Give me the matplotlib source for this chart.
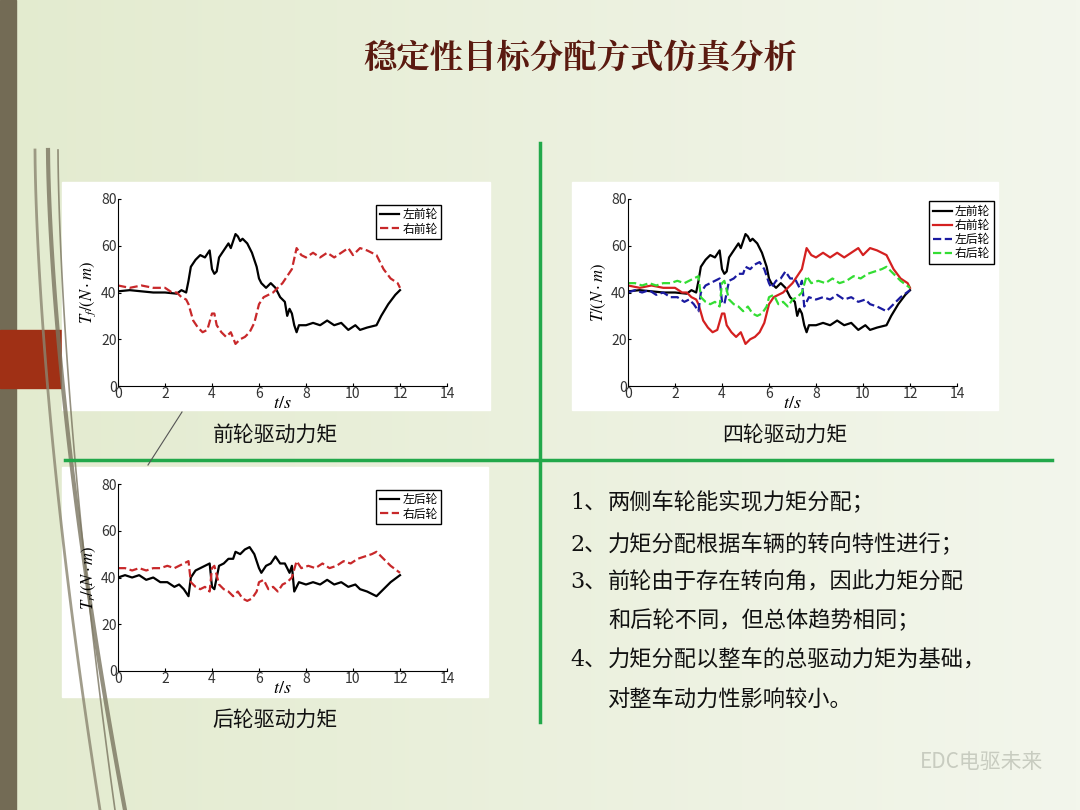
import numpy as np
import matplotlib
matplotlib.use("Agg")
import matplotlib.pyplot as plt
from matplotlib.patches import Rectangle

plt.rcParams['font.family'] = ['Noto Sans CJK SC', 'DejaVu Sans']
plt.rcParams['mathtext.fontset'] = 'stix'

# ── 数据 ──
t_fl = [0, 0.5, 1, 1.5, 2, 2.5, 2.7, 2.9, 3.0, 3.1, 3.3, 3.5, 3.7, 3.9, 4.0, 4.1, 4.2, 4.3, 4.5, 4.7,
        4.8, 4.9, 5.0, 5.1, 5.2, 5.3, 5.5, 5.7, 5.9, 6.0, 6.1, 6.3, 6.5, 6.7, 6.9, 7.1, 7.2, 7.3, 7.4,
        7.5, 7.6, 7.7, 8.0, 8.3, 8.6, 8.9, 9.2, 9.5, 9.8, 10.1, 10.3, 10.6, 11.0, 11.2, 11.5, 11.8, 12.0]
T_fl = [40.5, 41, 40.5, 40, 40, 39.5, 41, 40, 45, 51, 54, 56, 55, 58, 50, 48, 49, 55, 58, 61,
        59, 62, 65, 64, 62, 63, 61, 57, 51, 46, 44, 42, 44, 42, 38, 36, 30, 33, 31,
        26, 23, 26, 26, 27, 26, 28, 26, 27, 24, 26, 24, 25, 26, 30, 35, 39, 41]
t_fr = [0, 0.5, 1, 1.5, 2, 2.3, 2.5, 2.7, 2.9, 3.0, 3.2, 3.4, 3.6, 3.8, 4.0, 4.1, 4.2, 4.4, 4.6, 4.8,
        5.0, 5.2, 5.4, 5.6, 5.8, 6.0, 6.2, 6.4, 6.6, 6.8, 7.0, 7.2, 7.4, 7.6, 7.8, 8.0, 8.3, 8.6, 8.9,
        9.2, 9.5, 9.8, 10.0, 10.3, 10.6, 11.0, 11.3, 11.6, 11.9, 12.0]
T_fr = [43, 42, 43, 42, 42, 40, 40, 38, 37, 35, 28, 25, 23, 24, 31, 31, 26, 23, 21, 23,
        18, 20, 21, 23, 27, 35, 38, 39, 40, 42, 44, 47, 50, 59, 56, 55, 57, 55, 57,
        55, 57, 59, 56, 59, 58, 56, 50, 46, 44, 42]
t_rl = [0, 0.3, 0.6, 0.9, 1.2, 1.5, 1.8, 2.1, 2.4, 2.6, 2.8, 3.0, 3.1, 3.3, 3.5, 3.7, 3.9, 4.0, 4.1, 4.3,
        4.5, 4.7, 4.9, 5.0, 5.2, 5.4, 5.6, 5.8, 6.0, 6.1, 6.3, 6.5, 6.7, 6.9, 7.1, 7.3, 7.4, 7.5, 7.7,
        8.0, 8.3, 8.6, 8.9, 9.2, 9.5, 9.8, 10.1, 10.3, 10.6, 11.0, 11.3, 11.6, 12.0]
T_rl = [40, 41, 40, 41, 39, 40, 38, 38, 36, 37, 35, 32, 40, 43, 44, 45, 46, 36, 35, 45,
        46, 48, 48, 51, 50, 52, 53, 50, 44, 42, 45, 46, 49, 46, 46, 42, 45, 34, 38,
        37, 38, 37, 39, 37, 38, 36, 37, 35, 34, 32, 35, 38, 41]
t_rr = [0, 0.3, 0.6, 0.9, 1.2, 1.5, 1.8, 2.1, 2.4, 2.6, 2.8, 3.0, 3.1, 3.3, 3.5, 3.7, 3.9, 4.0, 4.1, 4.3,
        4.5, 4.7, 4.9, 5.1, 5.3, 5.5, 5.7, 5.9, 6.0, 6.2, 6.4, 6.6, 6.8, 7.0, 7.2, 7.4, 7.6, 7.8, 8.1,
        8.4, 8.7, 9.0, 9.3, 9.6, 9.9, 10.2, 10.5, 10.8, 11.0, 11.3, 11.6, 12.0]
T_rr = [44, 44, 43, 44, 43, 44, 44, 45, 44, 45, 46, 47, 38, 36, 35, 36, 34, 44, 45, 37,
        35, 34, 32, 34, 31, 30, 31, 34, 38, 39, 35, 36, 34, 37, 38, 40, 47, 44, 45,
        44, 46, 44, 45, 47, 46, 48, 49, 50, 51, 48, 45, 42]

title = '稳定性目标分配方式仿真分析'
captions = ['前轮驱动力矩', '四轮驱动力矩', '后轮驱动力矩']
notes = [('1、', '两侧车轮能实现力矩分配；'),
         ('2、', '力矩分配根据车辆的转向特性进行；'),
         ('3、', '前轮由于存在转向角，因此力矩分配'),
         ('', '和后轮不同，但总体趋势相同；'),
         ('4、', '力矩分配以整车的总驱动力矩为基础，'),
         ('', '对整车动力性影响较小。')]

W, H = 1080, 810
fig = plt.figure(figsize=(10.8, 8.1), dpi=100)

# ── 背景 ──
bg = fig.add_axes([0, 0, 1, 1], zorder=-10)
grad = np.linspace(0, 1, 256).reshape(1, -1)
bg.imshow(grad, cmap=matplotlib.colors.LinearSegmentedColormap.from_list('g', ['#e3ebcf', '#f3f6ec']),
          extent=[0, W, H, 0], aspect='auto')
bg.set_xlim(0, W); bg.set_ylim(H, 0); bg.axis('off')
bg.add_patch(Rectangle((0, 0), 16, H, color='#736b55'))
bg.add_patch(Rectangle((0, 330), 62, 58, color='#a03015'))
# 装饰曲线
for x0, x1, c, lw in [(58, 115, '#7a7560', 1.2), (48, 125, '#7a7560', 3), (35, 100, '#8a8570', 2)]:
    yy = np.linspace(150, H, 50)
    xx = x0 + (x1 - x0) * ((yy - 150) / (H - 150)) ** 1.6
    bg.plot(xx, yy, color=c, lw=lw, alpha=0.8)
bg.plot([540, 540], [143, 722], color='#22a84a', lw=2.5)
bg.plot([65, 1052], [460, 460], color='#22a84a', lw=2.5)
bg.plot([148, 182], [465, 412], color='#555555', lw=0.8)
for (x0, y0, x1, y1) in [(62, 182, 490, 410), (572, 182, 998, 410), (62, 467, 488, 697)]:
    bg.add_patch(Rectangle((x0, y0), x1 - x0, y1 - y0, color='white'))

bg.text(580, 58, title, fontsize=24, color='#5a1a10', ha='center', va='center', weight='bold',
        family=['Noto Serif CJK SC', 'Noto Sans CJK SC'])
bg.text(275, 435, captions[0], fontsize=15, ha='center', va='center', color='#111111')
bg.text(785, 435, captions[1], fontsize=15, ha='center', va='center', color='#111111')
bg.text(275, 720, captions[2], fontsize=15, ha='center', va='center', color='#111111')
for i, (num, s) in enumerate(notes):
    y = [503, 545, 582, 621, 660, 700][i]
    if num:
        bg.text(570, y, num, fontsize=16, family=['DejaVu Serif', 'Noto Sans CJK SC'],
                va='center', color='#111111')
    bg.text(608, y, s, fontsize=16, va='center', color='#111111')
bg.text(1043, 762, 'EDC电驱未来', fontsize=15, ha='right', va='center', color='#c8ccc0')


def make_ax(x0, y0, x1, y1):
    ax = fig.add_axes([x0 / W, 1 - y1 / H, (x1 - x0) / W, (y1 - y0) / H])
    ax.set_xlim(0, 14); ax.set_ylim(0, 80)
    ax.set_xticks(range(0, 15, 2)); ax.set_yticks(range(0, 81, 20))
    ax.tick_params(labelsize=10, length=2, direction='in', pad=1, labelcolor='#333333')
    for s in ['top', 'right']:
        ax.spines[s].set_visible(False)
    ax.set_facecolor('white')
    ax.set_xlabel('$t/s$', fontsize=13, labelpad=-5)
    return ax


leg_kw = dict(loc='upper right', fontsize=8.5, handlelength=1.6, borderpad=0.3, labelspacing=0.1,
              handletextpad=0.3, fancybox=False, edgecolor='black', framealpha=1)

ax1 = make_ax(118, 199, 447, 386)
ax1.plot(t_fl, T_fl, color='black', lw=1.6, label='左前轮')
ax1.plot(t_fr, T_fr, color='#c8282a', lw=1.6, ls='--', label='右前轮')
ax1.set_ylabel(r'$T_f/(N\cdot m)$', fontsize=12, labelpad=2)
ax1.legend(**leg_kw)

ax2 = make_ax(628, 199, 957, 386)
ax2.plot(t_fl, T_fl, color='black', lw=1.6, label='左前轮')
ax2.plot(t_fr, T_fr, color='#d42020', lw=1.6, label='右前轮')
ax2.plot(t_rl, T_rl, color='#1a1aa0', lw=1.6, ls='--', label='左后轮')
ax2.plot(t_rr, T_rr, color='#33dd33', lw=1.6, ls='--', label='右后轮')
ax2.set_ylabel(r'$T/(N\cdot m)$', fontsize=12, labelpad=2)
ax2.legend(bbox_to_anchor=(1.13, 1.02), **leg_kw)

ax3 = make_ax(118, 484, 447, 671)
ax3.plot(t_rl, T_rl, color='black', lw=1.6, label='左后轮')
ax3.plot(t_rr, T_rr, color='#c8282a', lw=1.6, ls='--', label='右后轮')
ax3.set_ylabel(r'$T_r/(N\cdot m)$', fontsize=12, labelpad=2)
ax3.legend(**leg_kw)

fig.savefig('out.png', dpi=100)
